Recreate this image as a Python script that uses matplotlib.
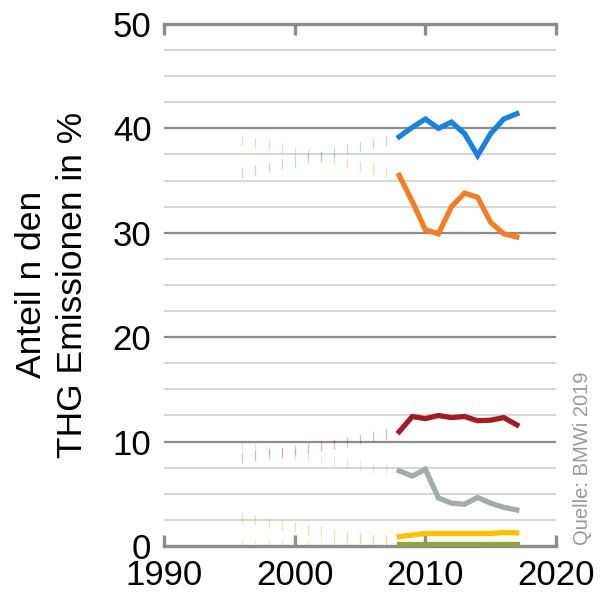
import matplotlib.pyplot as plt
import numpy as np

plt.rcParams['font.family'] = ['Liberation Sans', 'DejaVu Sans']

# faint early years and solid recent years
years_early = np.arange(1996, 2008)
years_late = np.arange(2008, 2018)

blue_early = [35.7, 36.0, 36.3, 36.6, 36.8, 37.2, 37.4, 37.7, 38.0, 38.2, 38.6, 38.8]
blue_late = [39.2, 40.1, 40.9, 40.0, 40.6, 39.5, 37.4, 39.5, 40.9, 41.4]

orange_early = [38.9, 38.6, 38.4, 38.1, 37.7, 37.5, 37.3, 37.1, 36.7, 36.4, 36.1, 35.8]
orange_late = [35.5, 33.0, 30.3, 29.9, 32.5, 33.8, 33.4, 31.0, 29.9, 29.6]

red_early = [8.4, 8.6, 8.8, 9.0, 9.2, 9.4, 9.6, 9.8, 10.0, 10.25, 10.5, 10.7]
red_late = [10.95, 12.4, 12.2, 12.5, 12.3, 12.4, 12.0, 12.05, 12.3, 11.6]

gray_early = [9.5, 9.4, 9.2, 9.0, 8.8, 8.5, 8.3, 8.1, 7.9, 7.7, 7.5, 7.35]
gray_late = [7.2, 6.7, 7.35, 4.6, 4.1, 4.0, 4.65, 4.1, 3.7, 3.45]

green_early = [2.65, 2.45, 2.2, 2.0, 1.8, 1.55, 1.4, 1.15, 0.95, 0.75, 0.6, 0.4]
green_late = [0.15, 0.15, 0.15, 0.15, 0.15, 0.15, 0.15, 0.15, 0.15, 0.15]

yellow_early = [0.05, 0.1, 0.15, 0.2, 0.25, 0.3, 0.35, 0.4, 0.5, 0.6, 0.7, 0.8]
yellow_late = [0.9, 1.05, 1.2, 1.2, 1.2, 1.2, 1.2, 1.2, 1.3, 1.25]

series = [
    (green_early, green_late, '#8ea832'),
    (yellow_early, yellow_late, '#ffc000'),
    (gray_early, gray_late, '#a6aba9'),
    (red_early, red_late, '#a11d21'),
    (orange_early, orange_late, '#f07f26'),
    (blue_early, blue_late, '#1a83d9'),
]

fig = plt.figure(figsize=(6, 5.92), dpi=100)
ax = fig.add_axes([0.2733, 0.0777, 0.6534, 0.8818])

# grid
for v in np.arange(2.5, 50, 2.5):
    if v % 10 == 0:
        ax.axhline(v, color='#8c8c8c', lw=1.6, zorder=1)
    else:
        ax.axhline(v, color='#cfcfcf', lw=1.2, zorder=1)

for early, late, c in series:
    ax.plot(years_early, early, ls='none', marker='|', ms=7, mew=0.9,
            color=c, alpha=0.3, zorder=2)
    ax.plot(years_late, late, color=c, lw=3.8, solid_joinstyle='miter', zorder=3)

ax.set_xlim(1990, 2020)
ax.set_ylim(0, 50)
ax.set_xticks([1990, 2000, 2010, 2020])
ax.set_yticks([0, 10, 20, 30, 40, 50])

for s in ['left', 'right']:
    ax.spines[s].set_visible(False)
for s in ['top', 'bottom']:
    ax.spines[s].set_color('#8c8c8c')
    ax.spines[s].set_linewidth(2.4)

ax.tick_params(axis='x', direction='in', length=8, width=2.4, color='#8c8c8c',
               top=True, labelsize=25, pad=9)
ax.tick_params(axis='y', length=0, labelsize=25, pad=9)

fig.text(0.086, 0.519, 'Anteil n den\nTHG Emissionen in %', rotation=90,
         fontsize=25.5, ha='center', va='center', multialignment='center',
         linespacing=1.3)

fig.text(0.97, 1 - 545 / 592, 'Quelle: BMWi 2019', rotation=90, fontsize=14.5,
         color='#999999', ha='center', va='bottom')

fig.savefig('out.png', dpi=100)
